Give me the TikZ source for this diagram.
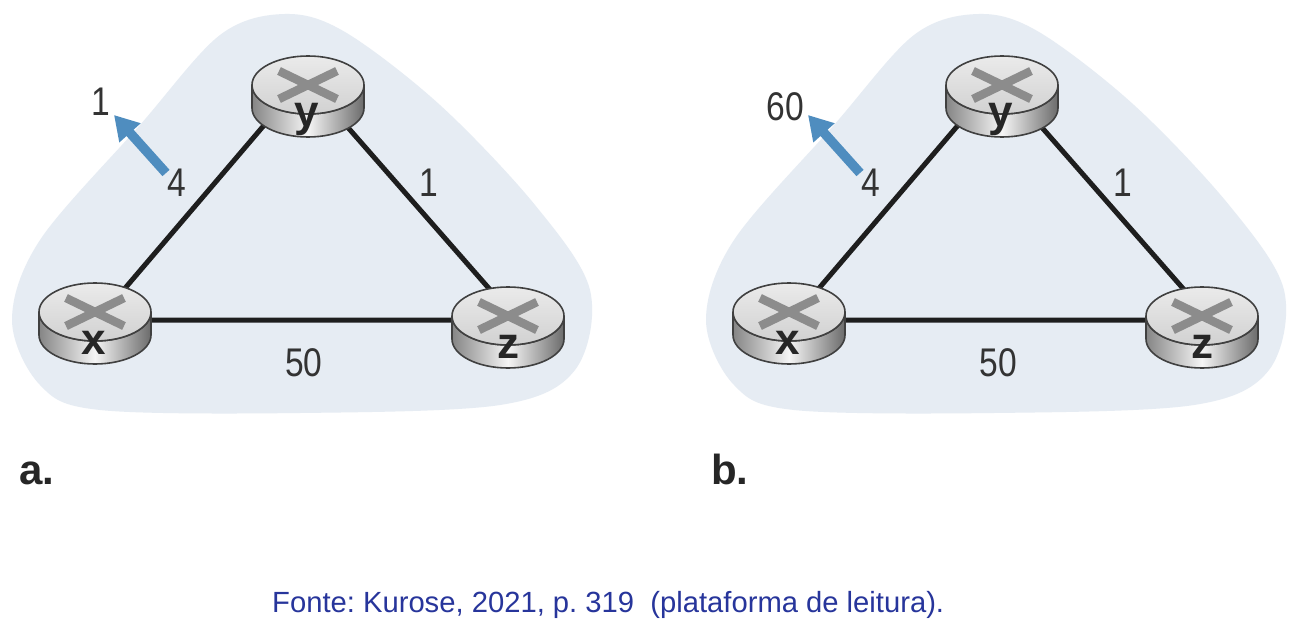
\documentclass[tikz,border=0pt]{standalone}
\usepackage{fontspec}
\setmainfont{Liberation Sans}
\newfontfamily\condfont[FakeStretch=0.84]{Liberation Sans}
\usetikzlibrary{arrows.meta,shapes.geometric}
\definecolor{blobc}{HTML}{E6ECF3}
\definecolor{arrowc}{HTML}{4F8DBF}
\definecolor{capc}{HTML}{27359B}
\definecolor{linkc}{HTML}{1E1E1E}
\definecolor{txtc}{HTML}{333333}
\tikzset{
  routerhit/.style={ellipse,minimum width=113pt,minimum height=80pt,inner sep=0pt},
  linkline/.style={draw=linkc,line width=5pt},
  costlabel/.style={inner sep=0pt,text=txtc,font=\condfont\fontsize{40}{44}\selectfont},
  routername/.style={inner sep=0pt,text=black!85,font=\bfseries\fontsize{44}{46}\selectfont},
  panellabel/.style={inner sep=0pt,text=black!85,font=\bfseries\fontsize{42}{44}\selectfont},
  costarrow/.style={draw=arrowc,line width=9.5pt,-{Triangle[width=27pt,length=24pt]}},
  caption/.style={inner sep=0pt,text=capc,font=\frenchspacing\fontsize{29.2}{32}\selectfont}
}
\newcommand{\routerart}[2]{%
  \begin{scope}[shift={(#1,#2)}]
    \path[left color=black!48,right color=black!58,middle color=black!4,draw=black!75,line width=1.6pt]
      (-56,-12) -- (-56,11) arc[start angle=180,end angle=0,x radius=56,y radius=29] -- (56,-12)
      arc[start angle=0,end angle=180,x radius=56,y radius=29] -- cycle;
    \path[top color=black!8,bottom color=black!18,draw=black!75,line width=1.6pt]
      (0,-12) ellipse[x radius=56,y radius=29];
    \draw[black!45,line width=8.5pt] (-29,-26) -- (29,2);
    \draw[black!45,line width=8.5pt] (29,-26) -- (-29,2);
  \end{scope}}
\newcommand{\panel}[5]{%
  \begin{scope}[shift={(#1,0)},name prefix=#2]
    \fill[blobc] plot[smooth cycle,tension=0.55] coordinates {
      (285,14) (345,32) (440,105) (535,205) (590,290) (575,370) (500,405)
      (300,413) (100,410) (40,385) (12,320) (40,240) (140,125) (220,35)};
    \node[routerhit] (x) at (95,324) {};
    \node[routerhit] (y) at (308,97) {};
    \node[routerhit] (z) at (508,328) {};
    \draw[linkline] (x.50) -- (y.212);
    \draw[linkline] (y.-37) -- (z.115);
    \draw[linkline] (x.4) -- (z.172);
    \routerart{95}{324}
    \routerart{308}{97}
    \routerart{508}{328}
    \node[routername] (xl) at (94,343) {x};
    \node[routername] (yl) at (307,119) {y};
    \node[routername] (zl) at (508,347) {z};
    \node[costlabel] (c4) at (177,183) {4};
    \node[costlabel] (c1) at (429,183) {1};
    \node[costlabel] (c50) at (304,363) {50};
    \node[costlabel] (cc) at (#3,#4) {#5};
    \coordinate (atail) at (166,173);
    \coordinate (ahead) at (114,115);
    \draw[costarrow] (atail) -- (ahead);
  \end{scope}}
\begin{document}
\begin{tikzpicture}[x=1pt,y=-1pt]
  \useasboundingbox (0,0) rectangle (1296,623);
  \fill[white] (0,0) rectangle (1296,623);
  \panel{0}{a}{101}{102}{1}
  \panel{694}{b}{91}{107}{60}
  \node[panellabel,anchor=base west] (la) at (19,484) {a.};
  \node[panellabel,anchor=base west] (lb) at (711,484) {b.};
  \node[caption,anchor=base west] (cap) at (272,612) {Fonte: Kurose, 2021, p. 319\ \ (plataforma de leitura).};
\end{tikzpicture}
\end{document}
